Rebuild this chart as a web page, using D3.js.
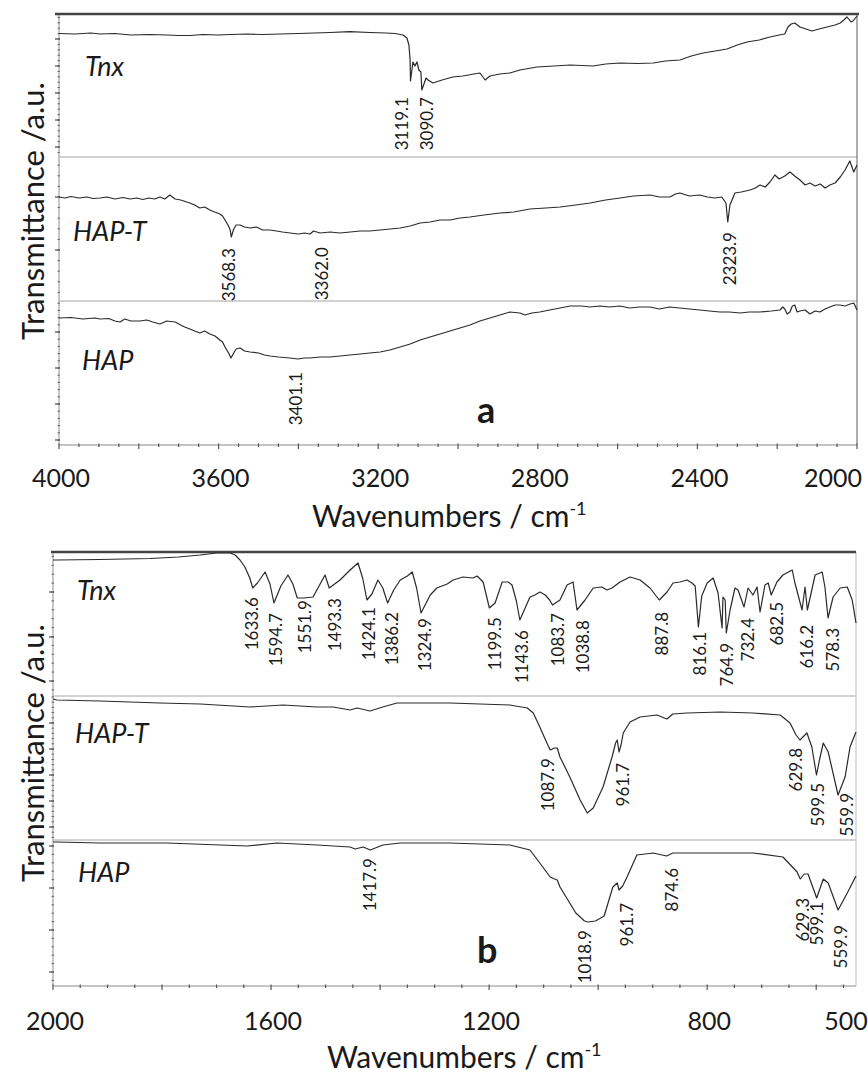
<!DOCTYPE html>
<html><head><meta charset="utf-8">
<script src="https://cdn.jsdelivr.net/npm/d3@7"></script>
<style>body{margin:0;background:#fff} svg{display:block} text{font-family:Lato,"Open Sans",sans-serif;fill:#1a1a1a}</style>
</head><body><svg id="c" width="868" height="1073"></svg>
<script>
// ---------- DATA (wavenumber cm-1, transmittance a.u. within each strip) ----------
const tnxA = [[4000,123.5],[3960,123],[3920,124],[3897,123],[3860,123.5],[3820,122],[3772,122.5],[3730,122],[3700,121.5],[3672,121.5],[3640,122.5],[3600,122],[3571,122.5],[3530,123],[3490,122.5],[3446,123],[3400,123.5],[3360,124],[3321,124.5],[3271,125.3],[3221,124.5],[3180,124],[3158,123.5],[3138,122],[3128,119],[3123,112],[3120,97],[3119.1,76],[3113,95],[3108,91],[3103,95],[3098,87],[3093,85],[3090.7,67],[3080,79],[3075,77],[3063,74],[3040,77],[3013,80],[2988,81],[2960,83],[2945,84],[2932,77],[2920,81],[2895,83],[2870,84],[2845,87],[2802,90],[2760,91],[2719,92],[2690,91.5],[2662,91],[2630,93],[2594,94],[2550,93.5],[2511,94],[2480,96],[2444,97],[2415,101],[2386,104],[2355,106],[2326,108],[2300,112],[2276,115],[2245,117],[2218,120],[2195,122],[2181,123],[2173,130],[2165,133],[2156,134],[2143,130],[2128,128],[2113,126],[2095,128],[2075,130],[2055,132],[2042,134],[2033,137],[2025,140],[2015,135],[2010,136],[2004,139],[2000,141]];
const haptA = [[4000,104],[3985,103],[3970,104.5],[3950,103],[3930,104],[3915,102.5],[3897,103],[3880,104],[3860,102],[3840,103.5],[3822,102],[3805,103],[3790,101.5],[3775,103],[3760,102],[3747,104],[3735,102],[3722,106],[3709,102],[3695,101],[3680,99],[3672,98],[3660,96],[3647,93],[3635,94],[3622,91],[3610,89],[3597,87],[3590,85],[3584,81],[3575,75],[3571,71],[3568.3,64],[3562,72],[3556,76],[3546,76],[3535,74],[3521,73],[3505,74],[3490,71],[3471,71],[3455,70],[3440,69],[3421,68],[3400,67],[3385,68],[3371,67],[3362,70],[3346,68],[3320,69],[3296,68],[3270,69],[3245,70],[3221,70],[3195,71],[3170,72],[3145,73],[3120,75],[3095,78],[3070,79],[3045,81],[3020,81],[2995,83],[2970,84],[2935,86],[2895,88],[2860,89],[2820,92],[2780,93],[2744,94],[2705,96],[2669,98],[2630,101],[2594,103],[2560,105],[2519,106],[2495,104],[2469,104],[2455,107],[2444,108],[2420,105],[2394,106],[2375,104],[2356,103],[2339,104],[2328.5,98],[2323.9,79],[2318.5,96],[2306,108],[2290,109],[2268,111],[2255,113],[2243,116],[2230,114],[2218,119],[2206,126],[2195,122],[2181,125],[2168,129],[2156,125],[2143,121],[2130,116],[2118,118],[2105,115],[2092,117],[2080,113],[2068,116],[2055,118],[2042,124],[2030,131],[2018,140],[2008,129],[2000,136]];
const hapA = [[4000,127],[3970,127.5],[3940,126],[3910,127],[3897,126],[3875,126.5],[3860,124],[3847,123],[3835,126],[3820,124],[3797,124],[3780,125],[3765,123],[3747,121],[3730,124],[3709,123],[3695,120],[3685,118],[3672,116],[3660,114],[3647,112],[3635,114],[3622,111],[3609,109],[3597,105],[3590,103],[3584,98],[3575,92],[3569,87],[3562,92],[3556,96],[3546,97],[3535,94],[3521,93],[3500,92],[3485,90],[3471,89],[3450,88],[3421,87],[3401,86],[3385,87],[3371,87],[3345,88],[3321,88],[3295,89],[3271,90],[3245,91],[3221,92],[3195,93],[3171,95],[3145,98],[3120,101],[3095,105],[3070,108],[3045,111],[3020,114],[2995,117],[2970,120],[2945,124],[2920,127],[2895,130],[2870,133],[2845,132],[2832,130],[2815,132],[2795,133],[2770,135],[2744,137],[2719,139],[2690,139],[2670,138],[2644,139],[2620,138],[2594,139],[2570,137],[2545,138],[2519,138],[2495,136],[2470,138],[2444,137],[2420,136],[2394,135],[2370,134],[2344,133],[2320,133],[2293,132],[2270,133],[2243,133],[2215,134],[2193,135],[2186,138],[2181,136],[2175,131],[2168,133],[2162,139],[2156,140],[2150,133],[2143,134],[2130,135],[2118,131],[2105,134],[2093,133],[2080,136],[2068,138],[2055,140],[2043,140],[2030,139],[2017,141],[2008,142],[2000,135]];

const tnxB = [[2000,136],[1993,136],[1914,136.5],[1822,137.5],[1770,139],[1730,141],[1700,143],[1675,143],[1666,141],[1657,136],[1648,129],[1639,118],[1633.6,108],[1625,113],[1611,124],[1602,112],[1594.7,93],[1582,110],[1569,121],[1560,112],[1551.9,98],[1540,98],[1523,99],[1510,112],[1501,121],[1493.3,108],[1473.5,116],[1455,126],[1440.5,133],[1432,118],[1424.1,96],[1415,102],[1404,116],[1395,108],[1386.2,93],[1375,106],[1363,116],[1350,120],[1341,124],[1333,108],[1324.9,83],[1308,101],[1296,108],[1277,112],[1266,116],[1248,119],[1229.5,118],[1222,120],[1211,114],[1199.5,88],[1189,93],[1176,114],[1165,114],[1158,111],[1150,95],[1143.6,76],[1125,99],[1116,101],[1107,104],[1097,101],[1089,96],[1083.7,91],[1070,96],[1057,111],[1046,114],[1038.8,86],[1024,96],[1009,108],[993,109],[984,106],[974.5,108],[960,114],[941.5,119],[923,116],[905,108],[887.8,96],[873.6,104],[862.6,113],[850,114],[837,116],[828,113],[822,110],[816.1,69],[810,100],[800,113],[789,118],[780,103],[772.7,68],[771,99],[767,96],[764.9,63],[758,86],[749,108],[743.4,106],[732.4,89],[725,108],[716,101],[708.5,109],[703,84],[694,111],[688,113],[682.5,101],[672,114],[661,121],[644,126],[639,113],[626,86],[620.5,109],[616.2,86],[602,121],[589,124],[584,109],[578.3,78],[569,99],[556,108],[543,109],[534,96],[527,73]];
const haptB = [[2000,141],[1993,140],[1914,139],[1804,137],[1730,136],[1639,133],[1578,135],[1516,133],[1486,133],[1455,130],[1442,132],[1418.5,129],[1395,133],[1369,137],[1327,137],[1272,137],[1162,135],[1130,132],[1119,127],[1107,113],[1094,97],[1087.9,90],[1080,92],[1075,92],[1070,83],[1052,63],[1033,40],[1020,27],[1009,32],[991,53],[974.5,83],[968,97],[965,100],[961.7,88],[958,95],[954,107],[941.5,118],[923,123],[892,125],[874,121],[863,126],[837,127],[776,128],[716,127],[666,125],[648,117],[637,105],[629.8,100],[617,107],[608,93],[599.5,65],[594,80],[587,97],[578,88],[559.9,45],[547,63],[538,93],[527,108]];
const hapB = [[2000,144],[1993,144],[1914,143],[1791,143],[1644,140],[1589,143],[1516,141],[1455,139],[1446,137],[1431,139],[1417.9,136],[1395,141],[1363,143],[1272,143],[1162,141],[1125,136],[1107,123],[1088,109],[1080,107],[1075,106],[1070,99],[1041,73],[1025,65],[1018.9,64],[1005,65],[989,70],[973,99],[965,103],[961.7,96],[955,100],[947,109],[929,131],[899,133],[874.6,130],[863,133],[808,133],[716,133],[661,129],[635,114],[629.3,107],[622,112],[615,112],[599.1,88],[587,107],[578,103],[559.9,76],[543,93],[527,110]];

// peak labels: [text, wavenumber at label, a.u. level of label top]
const peaksTnxA = [["3119.1",3140,60],["3090.7",3078,60]];
const peaksHaptA = [["3568.3",3574,53],["3362.0",3341,54],["2323.9",2318.5,69]];
const peaksHapA = [["3401.1",3406,73]];
const peaksTnxB = [["1633.6",1635,99],["1594.7",1591,83],["1551.9",1538,96],["1493.3",1483,98],["1424.1",1420,89],["1386.2",1378,84],["1324.9",1318,78],["1199.5",1189,79],["1143.6",1140,66],["1083.7",1074,83],["1038.8",1028,76],["887.8",883,84],["816.1",813,64],["764.9",764,53],["732.4",725,78],["682.5",672,94],["616.2",617,71],["578.3",569,68]];
const peaksHaptB = [["1087.9",1092,82],["961.7",954,77],["629.8",637,92],["599.5",597,57],["559.9",543,47]];
const peaksHapB = [["1417.9",1418.5,128],["1018.9",1024,56],["961.7",947,83],["874.6",864,118],["629.3",624,88],["599.1",598.5,84],["559.9",554,61]];

const sampleNames = ["Tnx","HAP-T","HAP"];
const xTicksA = [4000,3600,3200,2800,2400,2000];
const xTicksB = [2000,1600,1200,800,500];
const yTitle = "Transmittance /a.u.";
const xTitle = "Wavenumbers / cm";

// ---------- LAYOUT ----------
const panels = [
 {domain:[4000,2000], x0:59, x1:857, bands:[14,157,301,445], series:[tnxA,haptA,hapA],
  peaks:[peaksTnxA,peaksHaptA,peaksHapA], ticks:xTicksA, edgePad:24,
  names:[[85,76],[73,241],[82,370]], letter:"a", letterXY:[477,423],
  tickBase:487, titleX:312, titleY:527, yTitleY:211, topLine:[55,859], rightCol:"#777",
  majors:[[10,37,64,91,118],[51,104],[5,41,77,113]], minorStep:[5.4,10.6,7.2]},
 {domain:[2000,527], x0:53, x1:856, bands:[552,696,840,986], series:[tnxB,haptB,hapB],
  peaks:[peaksTnxB,peaksHaptB,peaksHapB], ticks:xTicksB, edgePad:10,
  names:[[77,600],[75,743],[78,882]], letter:"b", letterXY:[477,963],
  tickBase:1030, titleX:327, titleY:1068, yTitleY:753, topLine:[51,856], rightCol:"#c8c8c8",
  majors:[[15,59,104],[13,39,65,91,117],[14,56,98,140]], minorStep:[8.9,5.2,8.4]}
];

const svg = d3.select("#c");

panels.forEach(p=>{
  const g = svg.append("g");
  const x = d3.scaleLinear().domain(p.domain).range([p.x0,p.x1]);
  const bottom = p.bands[3], top = p.bands[0];

  [p.bands[1],p.bands[2]].forEach(yy=>{
    g.append("line").attr("x1",p.x0).attr("x2",p.x1).attr("y1",yy).attr("y2",yy)
     .attr("stroke","#d2d2d2").attr("stroke-width",2);
  });
  g.append("line").attr("x1",p.x1).attr("x2",p.x1).attr("y1",top).attr("y2",bottom)
   .attr("stroke",p.rightCol).attr("stroke-width",1.2);
  g.append("line").attr("x1",p.x0).attr("x2",p.x0).attr("y1",top).attr("y2",bottom)
   .attr("stroke","#b5b5b5").attr("stroke-width",1.5);
  g.append("line").attr("x1",p.x0).attr("x2",p.x1).attr("y1",bottom).attr("y2",bottom)
   .attr("stroke","#c4c4c4").attr("stroke-width",2);
  g.append("line").attr("x1",p.topLine[0]).attr("x2",p.topLine[1]).attr("y1",top).attr("y2",top)
   .attr("stroke","#444").attr("stroke-width",2.5);

  // x ticks (every 50 cm-1, longer every 200)
  const lo = Math.min(...p.domain), hi = Math.max(...p.domain);
  d3.range(500, 4001, 50).filter(v=>v>=lo && v<=hi).forEach(v=>{
    const major = v%200===0;
    g.append("line").attr("x1",x(v)).attr("x2",x(v)).attr("y1",bottom-1.5).attr("y2",bottom+(major?4:2))
     .attr("stroke","#555").attr("stroke-width",1.2);
  });
  // x tick labels (edge label pulled inside the frame as in the original)
  g.selectAll("text.xt").data(p.ticks).enter().append("text")
   .attr("class","xt").attr("x",d=>Math.min(x(d)+2,p.x1-p.edgePad)).attr("y",p.tickBase)
   .attr("text-anchor","middle").attr("font-size",25).text(d=>d);

  p.series.forEach((s,i)=>{
    const b0 = p.bands[i], b1 = p.bands[i+1];
    const y = d3.scaleLinear().domain([0,b1-b0]).range([b1,b0]);
    const step = p.minorStep[i];
    const m0 = p.majors[i][0];
    for(let k=-10;k<40;k++){
      const v = m0 + k*step;
      if(v<1 || v>b1-b0-1) continue;
      g.append("line").attr("x1",p.x0-1.5).attr("x2",p.x0+1).attr("y1",y(v)).attr("y2",y(v))
       .attr("stroke","#666").attr("stroke-width",1);
    }
    p.majors[i].forEach(v=>{
      g.append("line").attr("x1",p.x0-4).attr("x2",p.x0+1).attr("y1",y(v)).attr("y2",y(v))
       .attr("stroke","#555").attr("stroke-width",1.3);
    });
    const line = d3.line().x(d=>x(d[0])).y(d=>y(d[1]));
    g.append("path").datum(s).attr("d",line).attr("fill","none")
     .attr("stroke","#2a2a2a").attr("stroke-width",1.2).attr("stroke-linejoin","round");
    p.peaks[i].forEach(pk=>{
      g.append("text").attr("transform",`translate(${x(pk[1])},${y(pk[2])}) rotate(-90)`)
       .attr("text-anchor","end").attr("dy","0.36em").attr("font-size",17).text(pk[0]);
    });
    g.append("text").attr("x",p.names[i][0]).attr("y",p.names[i][1])
     .attr("font-size",27).attr("font-style","italic").text(sampleNames[i]);
  });

  g.append("text").attr("x",p.letterXY[0]).attr("y",p.letterXY[1]).attr("font-size",36)
   .attr("font-weight","bold").text(p.letter);
  const xt = g.append("text").attr("x",p.titleX).attr("y",p.titleY).attr("font-size",30);
  xt.append("tspan").text(xTitle);
  xt.append("tspan").attr("dy",-12).attr("font-size",18).text("-1");
  g.append("text").attr("transform",`translate(44,${p.yTitleY}) rotate(-90)`)
   .attr("text-anchor","middle").attr("font-size",31).text(yTitle);
});
</script></body></html>
